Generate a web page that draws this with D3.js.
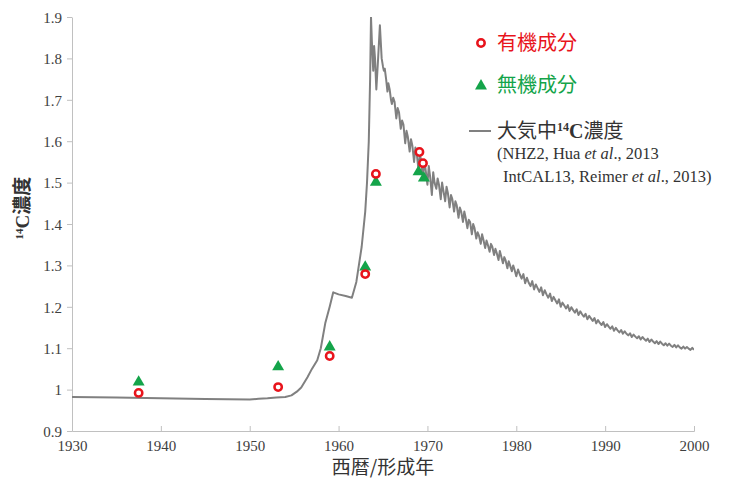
<!DOCTYPE html>
<html>
<head>
<meta charset="utf-8">
<script src="https://cdn.jsdelivr.net/npm/d3@7"></script>
<style>
body { margin: 0; background: #fff; }
.tick text { font-family: "Liberation Serif", serif; font-size: 15px; fill: #404040; }
.cjk { font-family: "Noto Sans CJK JP", sans-serif; }
.serif { font-family: "Liberation Serif", serif; }
</style>
</head>
<body>
<div id="chart"></div>
<script>
// sample years and measured 14C concentration
var sampleYearOrg = [1937.5, 1953.2, 1959.0, 1963.0, 1964.2, 1969.1, 1969.5];
var organic = [0.992, 1.006, 1.081, 1.279, 1.521, 1.574, 1.547];
var sampleYearInorg = [1937.5, 1953.2, 1959.0, 1963.0, 1964.2, 1969.0, 1969.6];
var inorganic = [1.018, 1.055, 1.103, 1.296, 1.501, 1.526, 1.511];

// atmospheric 14C (NHZ2 / IntCAL13), [year, value]
var atmosphere = [
  [1930, 0.982], [1935, 0.981], [1940, 0.979], [1945, 0.977], [1950, 0.976],
  [1951, 0.978], [1952, 0.979], [1953, 0.981], [1954, 0.982], [1954.7, 0.986],
  [1955.3, 0.995], [1955.8, 1.005], [1956.5, 1.03], [1957.0, 1.05], [1957.6, 1.071],
  [1958.0, 1.10], [1958.5, 1.16], [1959.0, 1.20], [1959.4, 1.235], [1960.0, 1.23],
  [1960.8, 1.226], [1961.5, 1.222], [1962.0, 1.26], [1962.6, 1.345], [1963.0, 1.43],
  [1963.2, 1.50], [1963.4, 1.60], [1963.55, 1.75], [1963.65, 1.90], [1963.75, 1.84],
  [1963.9, 1.77], [1964.0, 1.83], [1964.1, 1.80], [1964.25, 1.725], [1964.45, 1.80],
  [1964.65, 1.88], [1964.85, 1.80], [1965.0, 1.78], [1965.1, 1.77], [1965.2, 1.775],
  [1965.35, 1.75], [1965.5, 1.72], [1965.6, 1.74], [1965.75, 1.725], [1965.9, 1.70],
  [1966.0, 1.69], [1966.15, 1.705], [1966.3, 1.695], [1966.5, 1.655], [1966.65, 1.68],
  [1966.8, 1.67], [1967.0, 1.63], [1967.15, 1.65], [1967.3, 1.64], [1967.5, 1.595],
  [1967.65, 1.625], [1967.8, 1.61], [1968.0, 1.575], [1968.15, 1.605], [1968.3, 1.59],
  [1968.5, 1.55], [1968.65, 1.585], [1968.8, 1.57], [1969.0, 1.53], [1969.15, 1.57],
  [1969.3, 1.55], [1969.5, 1.51], [1969.65, 1.555], [1969.8, 1.53], [1970.0, 1.495],
  [1970.15, 1.54], [1970.3, 1.515], [1970.5, 1.47], [1970.65, 1.525], [1970.8, 1.50],
  [1971.0, 1.485], [1971.15, 1.51], [1971.3, 1.495], [1971.5, 1.46], [1971.65, 1.50],
  [1971.8, 1.48], [1972.0, 1.455], [1972.15, 1.49], [1972.3, 1.475], [1972.5, 1.44],
  [1972.65, 1.47], [1972.8, 1.46], [1973.0, 1.43], [1973.15, 1.455], [1973.3, 1.445],
  [1973.5, 1.415], [1973.65, 1.44], [1973.8, 1.43], [1974.0, 1.405], [1974.15, 1.43],
  [1974.3, 1.415], [1974.5, 1.39], [1974.65, 1.41], [1974.8, 1.405], [1975.0, 1.375],
  [1975.15, 1.40], [1975.3, 1.39], [1975.5, 1.365], [1975.65, 1.38], [1975.8, 1.372],
  [1976.0, 1.352], [1976.15, 1.375], [1976.3, 1.362], [1976.5, 1.342], [1976.65, 1.36],
  [1976.8, 1.35], [1977.0, 1.333], [1977.15, 1.352], [1977.3, 1.345], [1977.5, 1.325],
  [1977.65, 1.34], [1977.8, 1.33], [1978.0, 1.313], [1978.15, 1.335], [1978.3, 1.322],
  [1978.5, 1.305], [1978.65, 1.32], [1978.8, 1.312], [1979.0, 1.293], [1979.15, 1.31],
  [1979.3, 1.30], [1979.5, 1.286], [1979.65, 1.30], [1979.8, 1.29], [1980.0, 1.274],
  [1980.2, 1.29], [1980.4, 1.278], [1980.6, 1.268], [1980.8, 1.279], [1981.0, 1.257],
  [1981.2, 1.27], [1981.4, 1.258], [1981.6, 1.25], [1981.8, 1.262], [1982.0, 1.242],
  [1982.2, 1.254], [1982.4, 1.245], [1982.6, 1.236], [1982.8, 1.247], [1983.0, 1.228],
  [1983.2, 1.24], [1983.4, 1.23], [1983.6, 1.222], [1983.8, 1.232], [1984.0, 1.214],
  [1984.2, 1.224], [1984.4, 1.216], [1984.6, 1.208], [1984.8, 1.218], [1985.0, 1.20],
  [1985.2, 1.21], [1985.4, 1.203], [1985.6, 1.196], [1985.8, 1.204], [1986.0, 1.19],
  [1986.2, 1.199], [1986.4, 1.192], [1986.6, 1.186], [1986.8, 1.194], [1987.0, 1.18],
  [1987.2, 1.189], [1987.4, 1.182], [1987.6, 1.176], [1987.8, 1.183], [1988.0, 1.17],
  [1988.2, 1.178], [1988.4, 1.172], [1988.6, 1.166], [1988.8, 1.173], [1989.0, 1.16],
  [1989.2, 1.168], [1989.4, 1.161], [1989.6, 1.156], [1989.8, 1.163], [1990.0, 1.151],
  [1990.2, 1.158], [1990.4, 1.152], [1990.6, 1.147], [1990.8, 1.153], [1991.0, 1.142],
  [1991.2, 1.149], [1991.4, 1.143], [1991.6, 1.138], [1991.8, 1.144], [1992.0, 1.135],
  [1992.2, 1.141], [1992.4, 1.135], [1992.6, 1.131], [1992.8, 1.136], [1993.0, 1.127],
  [1993.2, 1.133], [1993.4, 1.128], [1993.6, 1.124], [1993.8, 1.129], [1994.0, 1.121],
  [1994.2, 1.127], [1994.4, 1.122], [1994.6, 1.118], [1994.8, 1.123], [1995.0, 1.115],
  [1995.2, 1.121], [1995.4, 1.116], [1995.6, 1.112], [1995.8, 1.117], [1996.0, 1.11],
  [1996.2, 1.116], [1996.4, 1.111], [1996.6, 1.107], [1996.8, 1.112], [1997.0, 1.106],
  [1997.2, 1.111], [1997.4, 1.106], [1997.6, 1.103], [1997.8, 1.108], [1998.0, 1.102],
  [1998.2, 1.107], [1998.4, 1.102], [1998.6, 1.099], [1998.8, 1.104], [1999.0, 1.099],
  [1999.2, 1.103], [1999.4, 1.099], [1999.6, 1.096], [1999.8, 1.101], [2000.0, 1.096]
];

var xTicks = [1930, 1940, 1950, 1960, 1970, 1980, 1990, 2000];
var yTicks = [0.9, 1, 1.1, 1.2, 1.3, 1.4, 1.5, 1.6, 1.7, 1.8, 1.9];

var margin = {top: 17, right: 48, bottom: 50, left: 72},
    width = 742 - margin.left - margin.right,
    height = 481 - margin.top - margin.bottom;

var x = d3.scaleLinear().domain([1930, 2000]).range([0, width]);
var y = d3.scaleLinear().domain([0.9, 1.9]).range([height, 0]);

var svg = d3.select("#chart").append("svg")
    .attr("width", 742)
    .attr("height", 481);

var g = svg.append("g")
    .attr("transform", "translate(" + margin.left + "," + margin.top + ")");

g.append("clipPath").attr("id", "clip")
  .append("rect").attr("width", width).attr("height", height);

// axes
var xAxis = g.append("g")
    .attr("transform", "translate(0," + height + ")")
    .call(d3.axisBottom(x).tickValues(xTicks).tickFormat(d3.format("d"))
        .tickSizeInner(-5).tickSizeOuter(-5).tickPadding(9));
var yAxis = g.append("g")
    .call(d3.axisLeft(y).tickValues(yTicks).tickFormat(function(d) { return d === 1 ? "1" : d3.format(".1f")(d); })
        .tickSizeInner(5).tickSizeOuter(0).tickPadding(5));
[xAxis, yAxis].forEach(function(a) {
    a.select(".domain").attr("stroke", "#c0c0c0");
    a.selectAll(".tick line").attr("stroke", "#c0c0c0");
});
yAxis.selectAll(".tick text").attr("dy", "0.35em");

// atmosphere line
var line = d3.line()
    .x(function(d) { return x(d[0]); })
    .y(function(d) { return y(d[1]); });

g.append("path")
  .datum(atmosphere)
  .attr("clip-path", "url(#clip)")
  .attr("fill", "none")
  .attr("stroke", "#808080")
  .attr("stroke-width", 2)
  .attr("stroke-linejoin", "round")
  .attr("d", line);

// inorganic triangles
var tri = d3.symbol().type(d3.symbolTriangle).size(62);
g.selectAll(".inorg")
  .data(sampleYearInorg)
  .enter().append("path")
  .attr("class", "inorg")
  .attr("d", tri)
  .attr("fill", "#14a44a")
  .attr("transform", function(d, i) { return "translate(" + x(d) + "," + y(inorganic[i]) + ")"; });

// organic circles
g.selectAll(".org")
  .data(sampleYearOrg)
  .enter().append("circle")
  .attr("class", "org")
  .attr("cx", function(d) { return x(d); })
  .attr("cy", function(d, i) { return y(organic[i]); })
  .attr("r", 3.7)
  .attr("fill", "#fff")
  .attr("stroke", "#e8141c")
  .attr("stroke-width", 2.5);

// axis titles
svg.append("text")
  .attr("class", "cjk")
  .attr("x", margin.left + width / 2)
  .attr("y", 474)
  .attr("text-anchor", "middle")
  .style("font-size", "19px")
  .attr("fill", "#333")
  .text("西暦/形成年");

var yt = svg.append("text")
  .attr("transform", "translate(29,208) rotate(-90)")
  .attr("text-anchor", "middle")
  .attr("fill", "#333")
  .style("font-weight", "bold");
yt.append("tspan").attr("class", "serif").style("font-size", "11px").attr("dy", "-6").text("14");
yt.append("tspan").attr("class", "serif").style("font-size", "19px").attr("dy", "6").text("C");
yt.append("tspan").attr("class", "cjk").style("font-size", "19px").text("濃度");

// legend
var lg = svg.append("g");
lg.append("circle").attr("cx", 481).attr("cy", 43).attr("r", 3.7)
  .attr("fill", "#fff").attr("stroke", "#e8141c").attr("stroke-width", 2.5);
lg.append("text").attr("class", "cjk").attr("x", 497).attr("y", 50)
  .style("font-size", "20px").attr("fill", "#e8141c").text("有機成分");

lg.append("path").attr("d", tri).attr("fill", "#14a44a")
  .attr("transform", "translate(481,86)");
lg.append("text").attr("class", "cjk").attr("x", 497).attr("y", 92)
  .style("font-size", "20px").attr("fill", "#14a44a").text("無機成分");

lg.append("line").attr("x1", 469).attr("x2", 491).attr("y1", 131).attr("y2", 131)
  .attr("stroke", "#808080").attr("stroke-width", 2);
var t3 = lg.append("text").attr("x", 497).attr("y", 138).attr("fill", "#333");
t3.append("tspan").attr("class", "cjk").style("font-size", "20px").text("大気中");
t3.append("tspan").attr("class", "serif").style("font-size", "12px").style("font-weight", "bold").attr("dy", "-7").text("14");
t3.append("tspan").attr("class", "serif").style("font-size", "20px").style("font-weight", "bold").attr("dy", "7").text("C");
t3.append("tspan").attr("class", "cjk").style("font-size", "20px").text("濃度");

var r1 = lg.append("text").attr("class", "serif").attr("x", 497).attr("y", 159)
  .style("font-size", "16.5px").attr("fill", "#333");
r1.append("tspan").text("(NHZ2, Hua ");
r1.append("tspan").style("font-style", "italic").text("et al");
r1.append("tspan").text("., 2013");

var r2 = lg.append("text").attr("class", "serif").attr("x", 503).attr("y", 182)
  .style("font-size", "16.5px").attr("fill", "#333");
r2.append("tspan").text("IntCAL13, Reimer ");
r2.append("tspan").style("font-style", "italic").text("et al");
r2.append("tspan").text("., 2013)");
</script>
</body>
</html>
